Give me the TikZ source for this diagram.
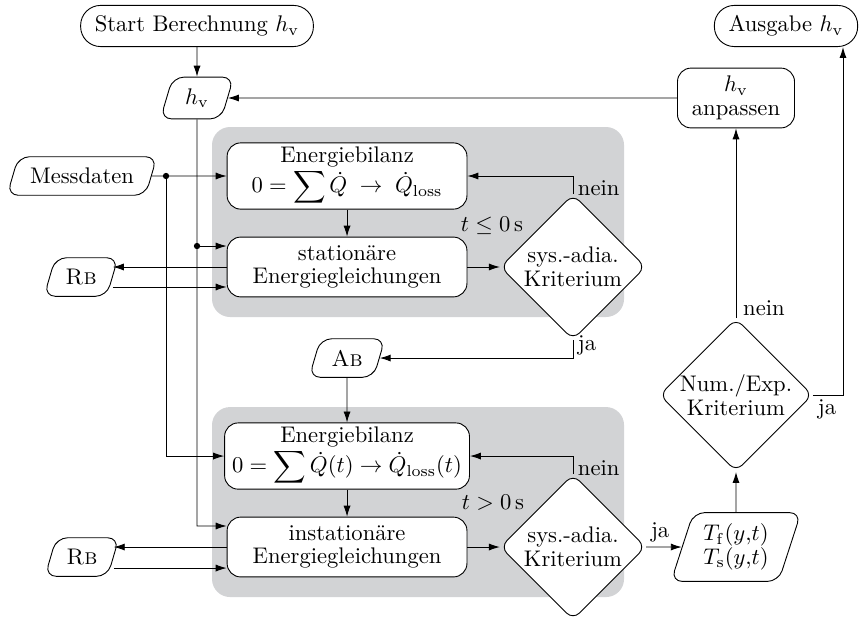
\documentclass[tikz,border=0pt]{standalone}
\usepackage{amsmath}
\usepackage{amssymb}
\usetikzlibrary{shapes.geometric,arrows.meta}

\definecolor{bggray}{RGB}{210,211,213}

\tikzset{
	box/.style={draw, fill=white, rounded corners=6pt, align=center, font=\fontsize{10}{10.5}\selectfont, minimum width=3.73cm},
	io/.style={draw, fill=white, trapezium, trapezium left angle=70, trapezium right angle=110, trapezium stretches body, rounded corners=5pt, align=center, font=\fontsize{10}{10.5}\selectfont, minimum height=0.6cm},
	term/.style={draw, fill=white, rounded corners=0.31cm, minimum height=0.64cm, inner xsep=0.22cm},
	crit/.style={draw, fill=white, diamond, aspect=1, rounded corners=4pt, align=center, font=\fontsize{10}{10.5}\selectfont, minimum width=2.26cm, minimum height=2.26cm, inner sep=0pt},
	flow/.style={-{Latex[length=1.7mm,width=1.1mm]}},
}

\begin{document}
\begin{tikzpicture}
	
	\useasboundingbox (0,0) rectangle (13.359,-9.642);
	
	\fill[bggray, rounded corners=8pt] (3.297,-1.975) rectangle (9.705,-4.930);
	\fill[bggray, rounded corners=8pt] (3.297,-6.330) rectangle (9.705,-9.285);
	
	\node[term] (start) at (3.064,-0.404) {Start Berechnung $h_\mathrm{v}$};
	\node[term] (out) at (12.224,-0.404) {Ausgabe $h_\mathrm{v}$};
	\node[io, minimum width=1.14cm, minimum height=0.65cm] (hv) at (3.064,-1.524) {$h_\mathrm{v}$};
	\node[box, minimum width=1.82cm, minimum height=0.93cm] (anp) at (11.446,-1.524) {$h_\mathrm{v}$\\anpassen};
	
	\node[io, minimum width=2.33cm] (mess) at (1.275,-2.737) {Messdaten};
	\node[box, minimum height=1.03cm, inner ysep=1pt] (bil1) at (5.397,-2.737) {Energiebilanz\\$0 = \displaystyle\sum\dot{Q} \;\to\; \dot{Q}_\text{loss}$};
	\node[box, minimum height=0.93cm] (stat) at (5.397,-4.152) {station\"are\\Energiegleichungen};
	\node[io, minimum width=1.15cm] (rb1) at (1.260,-4.308) {\textsc{Rb}};
	\node[crit] (krit1) at (8.911,-4.152) {sys.-adia.\\Kriterium};
	\node[io, minimum width=1.18cm] (ab) at (5.397,-5.568) {\textsc{Ab}};
	
	\node[box, minimum height=1.03cm, inner ysep=1pt] (bil2) at (5.397,-7.092) {Energiebilanz\\$0 = \displaystyle\sum\dot{Q}(t) \to \dot{Q}_\text{loss}(t)$};
	\node[box, minimum height=0.93cm] (inst) at (5.397,-8.507) {instation\"are\\Energiegleichungen};
	\node[io, minimum width=1.15cm] (rb2) at (1.275,-8.663) {\textsc{Rb}};
	\node[crit] (krit2) at (8.911,-8.507) {sys.-adia.\\Kriterium};
	\node[io, minimum width=2.02cm, minimum height=1.07cm] (temp) at (11.446,-8.507) {$T_\mathrm{f}(y{,}t)$\\$T_\mathrm{s}(y{,}t)$};
	\node[crit, minimum width=2.38cm, minimum height=2.35cm] (num) at (11.446,-6.143) {Num./Exp.\\Kriterium};
	
	\coordinate (jm) at (2.582,-2.737);
	\coordinate (jh) at (3.064,-3.826);
	\coordinate (ji) at (3.064,-8.180);
	\coordinate (rb1b) at (0,-4.463);
	\coordinate (rb2b) at (0,-8.834);
	\coordinate (outx) at (13.110,0);
	
	\draw[flow] (start) -- (hv);
	\draw[flow] (anp.west) -- (hv.east);
	\draw[flow] (mess.east) -- (bil1.west);
	\draw[flow] (jm) |- (bil2.west);
	\draw[flow] (hv.south) -- (ji) -- (ji -| inst.west);
	\draw[flow] (jh) -- (jh -| stat.west);
	\fill (jm) circle (1.4pt);
	\fill (jh) circle (1.4pt);
	
	\draw[flow] (stat.west) -- (stat.west -| rb1.east);
	\draw[flow] (rb1b -| rb1.east) -- (rb1b -| stat.west);
	\draw[flow] (inst.west) -- (inst.west -| rb2.east);
	\draw[flow] (rb2b -| rb2.east) -- (rb2b -| inst.west);
	
	\draw[flow] (bil1) -- (stat);
	\draw[flow] (stat) -- (krit1);
	\draw[flow] (krit1.north) |- (bil1.east);
	\draw[flow] (krit1.south) |- (ab.east);
	\draw[flow] (ab) -- (bil2);
	\draw[flow] (bil2) -- (inst);
	\draw[flow] (inst) -- (krit2);
	\draw[flow] (krit2.north) |- (bil2.east);
	\draw[flow] (krit2.east) -- (temp.west);
	\draw[flow] (temp) -- (num);
	\draw[flow] (num) -- (anp);
	\draw[flow] (num.east) -| (outx |- out.south);
	
	\node[anchor=north west, inner sep=2pt] at (krit1.north |- bil1.east) {nein};
	\node[anchor=south west, inner sep=1pt, xshift=1pt] at (krit1.south |- ab.east) {ja};
	\node[anchor=north west, inner sep=2pt] at (krit2.north |- bil2.east) {nein};
	\node[anchor=south west, inner sep=2pt] at (krit2.east) {ja};
	\node[anchor=south west, inner sep=1pt, xshift=2pt] at (num.north) {nein};
	\node[anchor=north west, inner sep=2pt] at (num.east) {ja};
	\node at (7.652,-3.515) {$t \leq 0\,\mathrm{s}$};
	\node at (7.667,-7.823) {$t > 0\,\mathrm{s}$};
	
\end{tikzpicture}
\end{document}
